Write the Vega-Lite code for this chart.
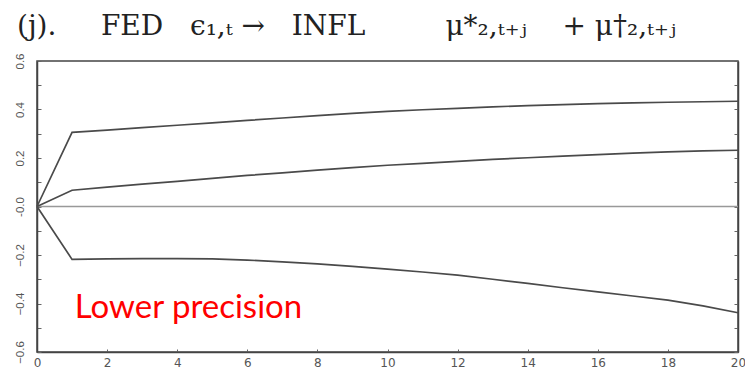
{
  "$schema": "https://vega.github.io/schema/vega-lite/v6.json",
  "width": 701,
  "height": 291,
  "autosize": {"type": "none"},
  "padding": {"left": 37, "top": 61, "right": 7, "bottom": 20},
  "background": "white",
  "title": {
    "text": "(j).\u00a0\u00a0\u00a0\u00a0 FED\u00a0\u00a0 ϵ₁,ₜ →\u00a0\u00a0 INFL\u00a0\u00a0\u00a0\u00a0\u00a0\u00a0\u00a0\u00a0 μ*₂,ₜ₊ⱼ\u00a0\u00a0\u00a0 +\u00a0μ†₂,ₜ₊ⱼ",
    "anchor": "start",
    "dx": 3,
    "offset": -10,
    "baseline": "alphabetic",
    "font": "DejaVu Serif",
    "fontSize": 28,
    "fontWeight": "normal",
    "color": "#222"
  },
  "config": {
    "view": {"stroke": "#444", "strokeWidth": 1.5},
    "axis": {"grid": false}
  },
  "datasets": {
    "irf": [
      {"h": 0, "band": "upper", "v": 0}, {"h": 1, "band": "upper", "v": 0.306}, {"h": 2, "band": "upper", "v": 0.315}, {"h": 3, "band": "upper", "v": 0.325}, {"h": 4, "band": "upper", "v": 0.335}, {"h": 5, "band": "upper", "v": 0.345}, {"h": 6, "band": "upper", "v": 0.355}, {"h": 7, "band": "upper", "v": 0.365}, {"h": 8, "band": "upper", "v": 0.375}, {"h": 9, "band": "upper", "v": 0.384}, {"h": 10, "band": "upper", "v": 0.392}, {"h": 11, "band": "upper", "v": 0.399}, {"h": 12, "band": "upper", "v": 0.405}, {"h": 13, "band": "upper", "v": 0.411}, {"h": 14, "band": "upper", "v": 0.416}, {"h": 15, "band": "upper", "v": 0.420}, {"h": 16, "band": "upper", "v": 0.424}, {"h": 17, "band": "upper", "v": 0.427}, {"h": 18, "band": "upper", "v": 0.430}, {"h": 19, "band": "upper", "v": 0.432}, {"h": 20, "band": "upper", "v": 0.434},
      {"h": 0, "band": "median", "v": 0}, {"h": 1, "band": "median", "v": 0.067}, {"h": 2, "band": "median", "v": 0.080}, {"h": 3, "band": "median", "v": 0.092}, {"h": 4, "band": "median", "v": 0.104}, {"h": 5, "band": "median", "v": 0.116}, {"h": 6, "band": "median", "v": 0.128}, {"h": 7, "band": "median", "v": 0.139}, {"h": 8, "band": "median", "v": 0.150}, {"h": 9, "band": "median", "v": 0.160}, {"h": 10, "band": "median", "v": 0.170}, {"h": 11, "band": "median", "v": 0.178}, {"h": 12, "band": "median", "v": 0.186}, {"h": 13, "band": "median", "v": 0.194}, {"h": 14, "band": "median", "v": 0.201}, {"h": 15, "band": "median", "v": 0.208}, {"h": 16, "band": "median", "v": 0.214}, {"h": 17, "band": "median", "v": 0.220}, {"h": 18, "band": "median", "v": 0.225}, {"h": 19, "band": "median", "v": 0.229}, {"h": 20, "band": "median", "v": 0.232},
      {"h": 0, "band": "lower", "v": 0}, {"h": 1, "band": "lower", "v": -0.218}, {"h": 2, "band": "lower", "v": -0.216}, {"h": 3, "band": "lower", "v": -0.215}, {"h": 4, "band": "lower", "v": -0.215}, {"h": 5, "band": "lower", "v": -0.216}, {"h": 6, "band": "lower", "v": -0.221}, {"h": 7, "band": "lower", "v": -0.228}, {"h": 8, "band": "lower", "v": -0.237}, {"h": 9, "band": "lower", "v": -0.247}, {"h": 10, "band": "lower", "v": -0.258}, {"h": 11, "band": "lower", "v": -0.270}, {"h": 12, "band": "lower", "v": -0.283}, {"h": 13, "band": "lower", "v": -0.300}, {"h": 14, "band": "lower", "v": -0.317}, {"h": 15, "band": "lower", "v": -0.335}, {"h": 16, "band": "lower", "v": -0.352}, {"h": 17, "band": "lower", "v": -0.369}, {"h": 18, "band": "lower", "v": -0.386}, {"h": 19, "band": "lower", "v": -0.410}, {"h": 20, "band": "lower", "v": -0.438}
    ],
    "zero": [{"v": 0}],
    "note": [{"h": 1.08, "v": -0.46, "label": "Lower precision"}]
  },
  "resolve": {"axis": {"y": "independent"}},
  "layer": [
    {
      "data": {"name": "zero"},
      "mark": {"type": "rule", "color": "#999", "strokeWidth": 1.5},
      "encoding": {
        "y": {
          "field": "v", "type": "quantitative",
          "scale": {"domain": [-0.6, 0.6], "nice": false},
          "axis": {
            "orient": "left",
            "values": [-0.6, -0.5, -0.4, -0.3, -0.2, -0.1, 0, 0.1, 0.2, 0.3, 0.4, 0.5, 0.6],
            "labelExpr": "abs(round(datum.value*10)) % 2 == 1 ? '' : (datum.value == 0 ? '-0.0' : format(datum.value, '.1f'))",
            "labelAngle": 270,
            "labelFont": "Liberation Sans",
            "labelFontSize": 11.5,
            "labelColor": "#555",
            "labelPadding": 16,
            "tickSize": -4,
            "tickColor": "#666",
            "domainColor": "#444",
            "domainWidth": 1.5,
            "title": null
          }
        }
      }
    },
    {
      "data": {"name": "irf"},
      "mark": {"type": "line", "color": "#4a4a4a", "strokeWidth": 1.7},
      "encoding": {
        "x": {
          "field": "h", "type": "quantitative",
          "scale": {"domain": [0, 20], "nice": false},
          "axis": {
            "values": [0, 1, 2, 3, 4, 5, 6, 7, 8, 9, 10, 11, 12, 13, 14, 15, 16, 17, 18, 19, 20],
            "labelExpr": "datum.value > 10 && datum.value % 2 == 1 ? '' : datum.label",
            "labelFont": "DejaVu Sans",
            "labelFontSize": 12,
            "labelColor": "#555",
            "labelPadding": 8,
            "tickSize": -3,
            "tickColor": "#666",
            "domainColor": "#444",
            "domainWidth": 1.5,
            "labelFlush": false,
            "labelOverlap": false,
            "title": null
          }
        },
        "y": {
          "field": "v", "type": "quantitative",
          "axis": {
            "orient": "right",
            "values": [-0.6, -0.5, -0.4, -0.3, -0.2, -0.1, 0, 0.1, 0.2, 0.3, 0.4, 0.5, 0.6],
            "labels": false,
            "tickSize": -4,
            "tickColor": "#666",
            "domainColor": "#444",
            "domainWidth": 1.5,
            "title": null
          }
        },
        "detail": {"field": "band", "type": "nominal"}
      }
    },
    {
      "data": {"name": "note"},
      "mark": {"type": "text", "align": "left", "baseline": "alphabetic", "font": "Lato", "fontSize": 33, "color": "#ff0000"},
      "encoding": {
        "x": {"field": "h", "type": "quantitative"},
        "y": {"field": "v", "type": "quantitative", "axis": null},
        "text": {"field": "label"}
      }
    }
  ]
}
